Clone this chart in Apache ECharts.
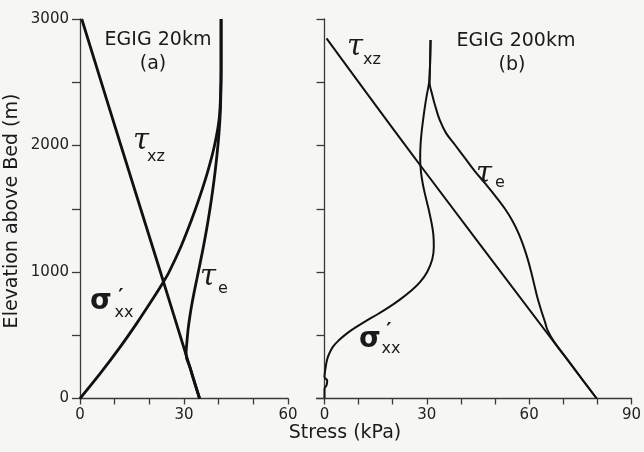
<!DOCTYPE html>
<html><head><meta charset="utf-8">
<script src="https://cdn.jsdelivr.net/npm/echarts@6/dist/echarts.min.js"></script>
<style>html,body{margin:0;padding:0;background:#f6f6f4}#c{width:644px;height:452px}</style>
</head><body><div id="c"></div>
<script>
// ---- data (stress kPa, elevation above bed m) ----
const xLabelsA = [0, 30, 60];
const xLabelsB = [0, 30, 60, 90];
const yLabels = [0, 1000, 2000, 3000];

// (a) EGIG 20 km
const tauXzA = [[0.5,3000],[11.8,2000],[23.2,1000],[34.5,0]];
const sigmaXxA = [[0,0],[5.9,200],[11.4,400],[16.5,600],[21.3,800],[24.1,923],[25.7,1000],[29.1,1200],[32.0,1400],[34.6,1600],[36.9,1800],[38.8,2000],[40.1,2200],[40.55,2400],[40.7,2600],[40.7,3000]];
const tauEA = [[34.5,0],[33.1,120],[31.8,240],[30.6,350],[30.85,450],[31.2,550],[31.7,650],[32.3,750],[33.0,850],[33.75,950],[34.5,1050],[35.6,1200],[36.6,1350],[37.5,1500],[38.3,1650],[39.0,1800],[39.6,1950],[40.1,2100],[40.45,2250],[40.62,2400],[40.7,2600],[40.7,3000]];

// (b) EGIG 200 km
const tauXzB = [[0.6,2847],[28.4,1832],[79.8,0]];
const sigmaXxB = [[31.1,2834],[31.0,2700],[30.9,2600],[30.7,2504],[30.0,2400],[29.4,2300],[28.9,2200],[28.45,2100],[28.15,2000],[28.05,1900],[28.25,1800],[28.8,1700],[29.6,1600],[30.5,1500],[31.3,1400],[31.9,1300],[32.05,1200],[31.6,1100],[30.1,1000],[28.0,920],[25.3,850],[22.0,780],[18.8,720],[15.8,670],[12.6,620],[9.6,570],[6.6,515],[4.2,460],[2.5,410],[1.3,350],[0.7,300],[0.3,240],[0.1,200],[0,170],[0.8,140],[0.6,105],[0,75],[0,0]];
const tauEB = [[31.1,2834],[31.0,2700],[30.9,2600],[30.8,2504],[31.6,2400],[32.6,2300],[33.8,2200],[35.6,2100],[38.4,2000],[41.2,1900],[44.0,1800],[47.1,1700],[50.1,1600],[52.9,1500],[55.2,1400],[57.0,1300],[58.4,1200],[59.6,1100],[60.6,1000],[61.5,900],[62.4,800],[63.5,700],[64.7,600],[65.4,540],[67.3,450],[71.5,300],[75.6,150],[79.8,0]];

const chart = echarts.init(document.getElementById('c'), null, {renderer:'canvas'});
const FONT = 'DejaVu Sans';
const AX = '#3a3a3a';
function xAxisCfg(gi, max, labels){
  return {gridIndex:gi, type:'value', min:0, max:max, interval:10,
    axisLine:{show:true, lineStyle:{color:AX, width:1.4}},
    axisTick:{show:true, inside:false, length:6, lineStyle:{color:AX, width:1.3}},
    axisLabel:{show:true, margin:9, color:'#222', fontFamily:FONT, fontSize:15,
      formatter:v => labels.includes(v) ? String(v) : ''},
    splitLine:{show:false}};
}
function yAxisCfg(gi, showLabels){
  return {gridIndex:gi, type:'value', min:0, max:3000, interval:500,
    axisLine:{show:true, lineStyle:{color:AX, width:1.3}},
    axisTick:{show:true, inside:false, length:8, lineStyle:{color:AX, width:1.3}},
    axisLabel:{show:showLabels, margin:11, color:'#222', fontFamily:FONT, fontSize:15,
      formatter:v => yLabels.includes(v) ? String(v) : ''},
    splitLine:{show:false}};
}
function lineSeries(gi, data, w){
  return {type:'line', xAxisIndex:gi, yAxisIndex:gi, data:data, smooth:0.4,
    showSymbol:false, symbol:'none', lineStyle:{color:'#111', width:w}, animation:false, z:3};
}
function txt(x, y, text, font){
  return {type:'text', x:x, y:y, z:10, style:{text:text, font:font, fill:'#1a1a1a', textAlign:'center', textVerticalAlign:'middle'}};
}
const TAU = 'italic 29px "DejaVu Serif"';
const SUB = '16px "DejaVu Sans"';
const SIG = 'bold 28px "DejaVu Sans"';
const PRIME = 'bold 20px "DejaVu Sans"';
chart.setOption({
  backgroundColor:'#f6f6f4',
  animation:false,
  grid:[{left:80, top:19, width:208, height:379.5},{left:324.5, top:19, width:308, height:379.5}],
  xAxis:[xAxisCfg(0,60,xLabelsA), xAxisCfg(1,90,xLabelsB)],
  yAxis:[yAxisCfg(0,true), yAxisCfg(1,false)],
  series:[
    lineSeries(0,tauXzA,2.8), lineSeries(0,sigmaXxA,2.8), lineSeries(0,tauEA,2.8),
    lineSeries(1,tauXzB,2), lineSeries(1,sigmaXxB,2), lineSeries(1,tauEB,2)
  ],
  graphic:[
    {type:'line', z:5, shape:{x1:316, y1:398.5, x2:325, y2:398.5}, style:{stroke:AX, lineWidth:1.4}},
    txt(158, 40, 'EGIG 20km', '19px "DejaVu Sans"'),
    txt(153, 64, '(a)', '19px "DejaVu Sans"'),
    txt(516, 41, 'EGIG 200km', '19px "DejaVu Sans"'),
    txt(512, 65, '(b)', '19px "DejaVu Sans"'),
    txt(345, 433, 'Stress (kPa)', '19px "DejaVu Sans"'),
    {type:'text', x:12, y:211, rotation:Math.PI/2, z:10,
      style:{text:'Elevation above Bed (m)', font:'19px "DejaVu Sans"', fill:'#1a1a1a', textAlign:'center', textVerticalAlign:'middle'}},
    // (a) labels
    txt(141, 141, 'τ', TAU), txt(156, 157, 'xz', SUB),
    txt(208, 277, 'τ', TAU), txt(223, 289, 'e', SUB),
    txt(101, 302, 'σ', SIG), txt(121, 297, '′', PRIME), txt(124, 313, 'xx', SUB),
    // (b) labels
    txt(355, 47, 'τ', TAU), txt(372, 60, 'xz', SUB),
    txt(484, 174, 'τ', TAU), txt(500, 183, 'e', SUB),
    txt(370, 340, 'σ', SIG), txt(389, 331, '′', PRIME), txt(391, 349, 'xx', SUB)
  ]
});
</script></body></html>
